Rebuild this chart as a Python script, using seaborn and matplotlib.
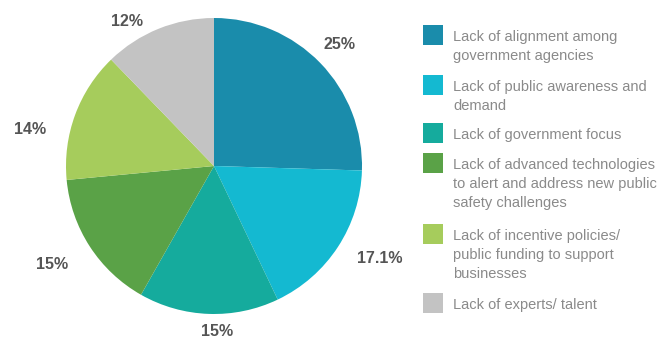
import matplotlib
matplotlib.use("Agg")
import matplotlib.pyplot as plt
from matplotlib.patches import Rectangle
import seaborn as sns
import numpy as np

# Data
categories = [
    "Lack of alignment among\ngovernment agencies",
    "Lack of public awareness and\ndemand",
    "Lack of government focus",
    "Lack of advanced technologies\nto alert and address new public\nsafety challenges",
    "Lack of incentive policies/\npublic funding to support\nbusinesses",
    "Lack of experts/ talent",
]
values = [25, 17.1, 15, 15, 14, 12]
value_labels = ["25%", "17.1%", "15%", "15%", "14%", "12%"]
colors = ["#1a8cab", "#14b9d1", "#15ab9d", "#5aa247", "#a6cc5c", "#c3c3c3"]

sns.set_theme(style="white")
plt.rcParams["font.family"] = ["Liberation Sans", "DejaVu Sans"]
palette = sns.color_palette(colors)

W, H = 671, 340
fig = plt.figure(figsize=(W / 100, H / 100), dpi=100)
fig.patch.set_facecolor("white")

# Pie axes: 296 px square, centred near (214, 166)
cx, cy, r = 214, 166, 148
ax = fig.add_axes([(cx - r) / W, (H - cy - r) / H, 2 * r / W, 2 * r / H])

wedges, _ = ax.pie(
    values,
    colors=palette,
    startangle=90,
    counterclock=False,
    wedgeprops=dict(linewidth=0),
)

# Percentage labels placed around each wedge's mid-angle
label_radius = [1.18, 1.28, 1.12, 1.28, 1.27, 1.14]
angle_shift = [0, 4, 3, -1.5, 9, 9]
for w, lab, rad, shift in zip(wedges, value_labels, label_radius, angle_shift):
    mid = np.deg2rad((w.theta1 + w.theta2) / 2 + shift)
    ax.text(rad * np.cos(mid), rad * np.sin(mid), lab, ha="center", va="center",
            fontsize=11.5, fontweight="bold", color="#555555", clip_on=False)

ax.set_xlim(-1, 1)
ax.set_ylim(-1, 1)
ax.set_aspect("equal")
ax.axis("off")

# Legend: coloured squares with multi-line labels aligned to the first line
sq = 20
sq_x = 423
text_x = 453
tops = [25, 75, 123, 153, 224, 293]
for top, col, lab in zip(tops, palette, categories):
    fig.add_artist(Rectangle((sq_x / W, (H - top - sq) / H), sq / W, sq / H,
                             transform=fig.transFigure, facecolor=col,
                             edgecolor="none"))
    fig.text(text_x / W, (H - top - 5) / H, lab, ha="left", va="top",
             fontsize=10.5, color="#8a8a8a", linespacing=1.45)

fig.savefig("out.png", dpi=100)
